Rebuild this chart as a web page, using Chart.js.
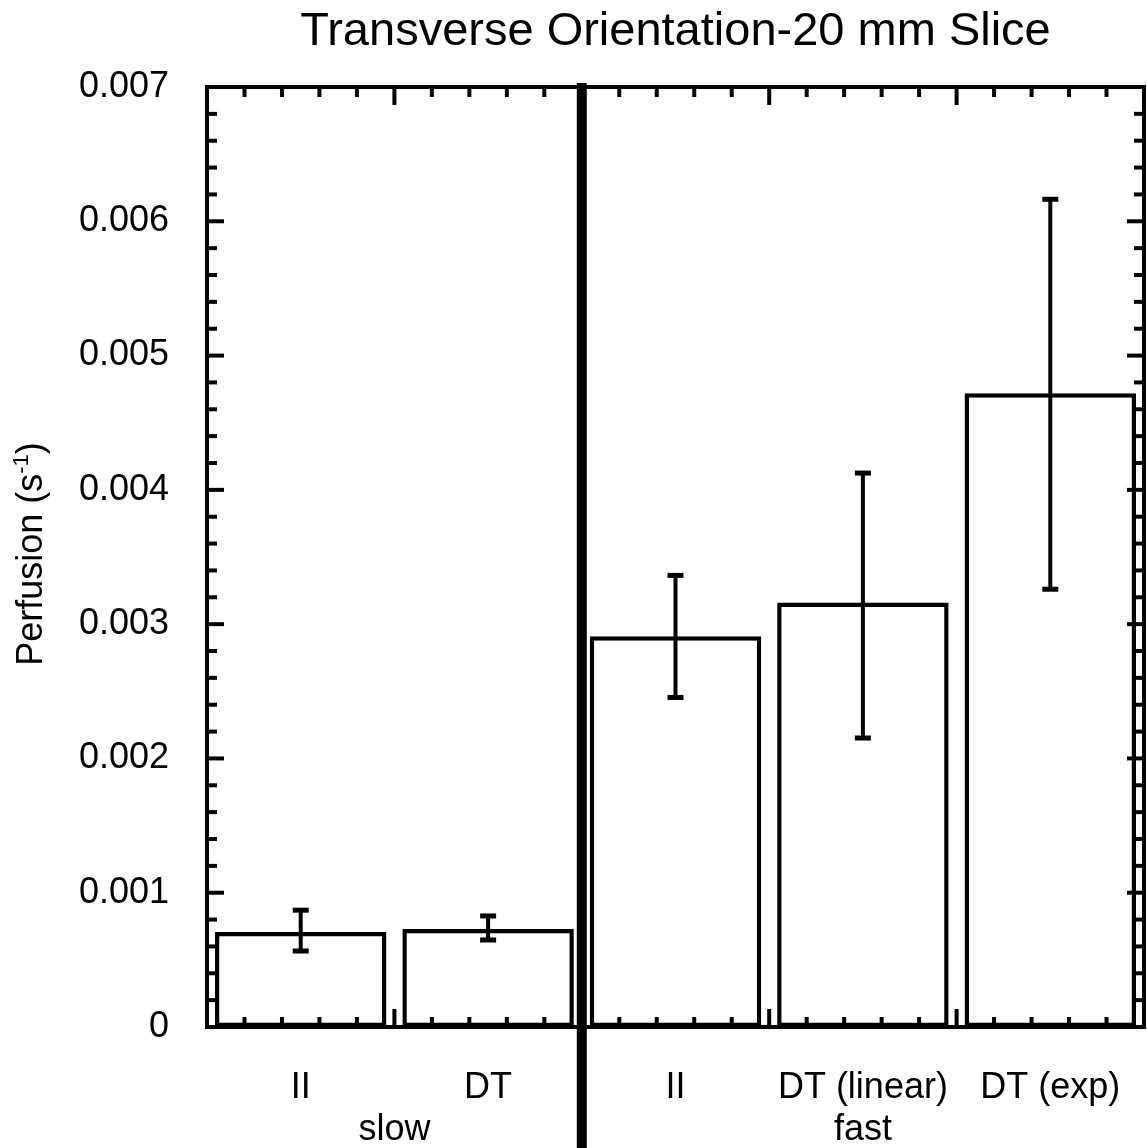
<!DOCTYPE html>
<html><head><meta charset="utf-8">
<style>html,body{margin:0;padding:0;background:#fff;}#wrap{width:1147px;height:1148px;}</style>
<script src="https://cdn.jsdelivr.net/npm/chart.js@4.4.0/dist/chart.umd.min.js"></script>
</head><body><div id="wrap"><canvas id="c" width="1147" height="1148"></canvas></div>
<script>
const chartTitle = 'Transverse Orientation-20 mm Slice';
const categories = ['II', 'DT', 'II', 'DT (linear)', 'DT (exp)'];
const groupNames = ['slow', 'fast'];
const groupFirst = [0, 2];
const groupLast = [1, 4];
const means = [0.000707, 0.00073, 0.002909, 0.003161, 0.00472];
const errLow = [0.000566, 0.000648, 0.002454, 0.002152, 0.00326];
const errHigh = [0.00087, 0.000827, 0.003363, 0.004125, 0.006164];
const yMin = 0, yMax = 0.007, yStep = 0.001, yMinorPerMajor = 5;
const yTitleMain = 'Perfusion (s', yTitleSup = '-1', yTitleEnd = ')';
const FONT = '"Liberation Sans", Arial, Helvetica, sans-serif';

const framePlugin = {
  id: 'frame',
  afterDatasetsDraw(chart) {
    const {ctx, chartArea: a, scales: {x, y}} = chart;
    ctx.save();
    ctx.strokeStyle = '#000';
    ctx.fillStyle = '#000';
    ctx.lineCap = 'butt';
    const line = (x1, y1, x2, y2) => { ctx.beginPath(); ctx.moveTo(x1, y1); ctx.lineTo(x2, y2); ctx.stroke(); };
    // error bars
    ctx.lineWidth = 4;
    means.forEach((m, i) => {
      const px = x.getPixelForValue(i);
      const yl = y.getPixelForValue(errLow[i]), yh = y.getPixelForValue(errHigh[i]);
      line(px, yl, px, yh);
      ctx.lineWidth = 5;
      line(px - 8, yl, px + 8, yl);
      line(px - 8, yh, px + 8, yh);
      ctx.lineWidth = 4;
    });
    // frame
    ctx.lineWidth = 4;
    ctx.strokeRect(a.left, a.top, a.right - a.left, a.bottom - a.top);
    // y ticks (both sides, inward)
    const nMinor = Math.round((yMax - yMin) / yStep * yMinorPerMajor);
    for (let i = 1; i < nMinor; i++) {
      const v = yMin + i * yStep / yMinorPerMajor;
      const py = y.getPixelForValue(v);
      const len = i % yMinorPerMajor === 0 ? 17 : 10;
      line(a.left, py, a.left + len, py);
      line(a.right, py, a.right - len, py);
    }
    // x ticks (top and bottom, inward)
    const w = x.getPixelForValue(1) - x.getPixelForValue(0);
    for (let i = 0; i < categories.length; i++) {
      const left = x.getPixelForValue(i) - w / 2;
      for (let k = 0; k < 5; k++) {
        if (k === 0 && i === 0) continue;
        const px = left + k * w / 5;
        const len = k === 0 ? 18 : 10;
        line(px, a.top, px, a.top + len);
        line(px, a.bottom, px, a.bottom - len);
      }
    }
    // group separator
    const sepX = (x.getPixelForValue(groupLast[0]) + x.getPixelForValue(groupFirst[1])) / 2;
    ctx.fillRect(sepX - 5, a.top - 4, 10, chart.height - a.top + 4);
    // group labels
    ctx.font = '36px ' + FONT;
    ctx.textAlign = 'center';
    ctx.textBaseline = 'alphabetic';
    groupNames.forEach((g, j) => {
      const cx = (x.getPixelForValue(groupFirst[j]) + x.getPixelForValue(groupLast[j])) / 2;
      ctx.fillText(g, cx, 1140);
    });
    // y axis title with superscript
    ctx.save();
    const cy = (a.top + a.bottom) / 2 - 3;
    ctx.translate(42, cy);
    ctx.rotate(-Math.PI / 2);
    ctx.textAlign = 'left';
    ctx.font = '36px ' + FONT;
    const w1 = ctx.measureText(yTitleMain).width;
    const w3 = ctx.measureText(yTitleEnd).width;
    ctx.font = '22px ' + FONT;
    const w2 = ctx.measureText(yTitleSup).width;
    let sx = -(w1 + w2 + w3) / 2;
    ctx.font = '36px ' + FONT;
    ctx.fillText(yTitleMain, sx, 0);
    sx += w1;
    ctx.font = '22px ' + FONT;
    ctx.fillText(yTitleSup, sx, -14);
    sx += w2;
    ctx.font = '36px ' + FONT;
    ctx.fillText(yTitleEnd, sx, 0);
    ctx.restore();
    ctx.restore();
  }
};

function zeroPad(s) { s.paddingLeft = 0; s.paddingRight = 0; s.paddingTop = 0; s.paddingBottom = 0; }

new Chart(document.getElementById('c'), {
  type: 'bar',
  data: {
    labels: categories,
    datasets: [{
      data: means,
      backgroundColor: '#fff',
      borderColor: '#000',
      borderWidth: 4.5,
      borderSkipped: false,
      barPercentage: 0.915,
      categoryPercentage: 1.0
    }]
  },
  options: {
    responsive: false,
    animation: false,
    devicePixelRatio: 1,
    layout: {padding: {left: 0, right: 3, top: 0, bottom: 0}},
    plugins: {
      legend: {display: false},
      tooltip: {enabled: false},
      title: {
        display: true,
        text: chartTitle,
        fullSize: false,
        color: '#000',
        font: {family: FONT, size: 47, weight: 'normal'},
        padding: {top: 4, bottom: 26.6}
      }
    },
    scales: {
      x: {
        type: 'category',
        offset: true,
        afterFit: s => { s.height = 121; zeroPad(s); },
        grid: {display: false, drawTicks: false},
        border: {display: false},
        ticks: {color: '#000', font: {family: FONT, size: 36}, padding: 39, maxRotation: 0, autoSkip: false}
      },
      y: {
        min: yMin, max: yMax,
        afterFit: s => { s.width = 207; zeroPad(s); },
        grid: {display: false, drawTicks: false},
        border: {display: false},
        ticks: {
          stepSize: yStep, color: '#000', padding: 38,
          font: {family: FONT, size: 36},
          callback: v => (Math.abs(v) < 1e-12 ? '0' : v.toFixed(3))
        }
      }
    }
  },
  plugins: [framePlugin]
});
</script></body></html>
